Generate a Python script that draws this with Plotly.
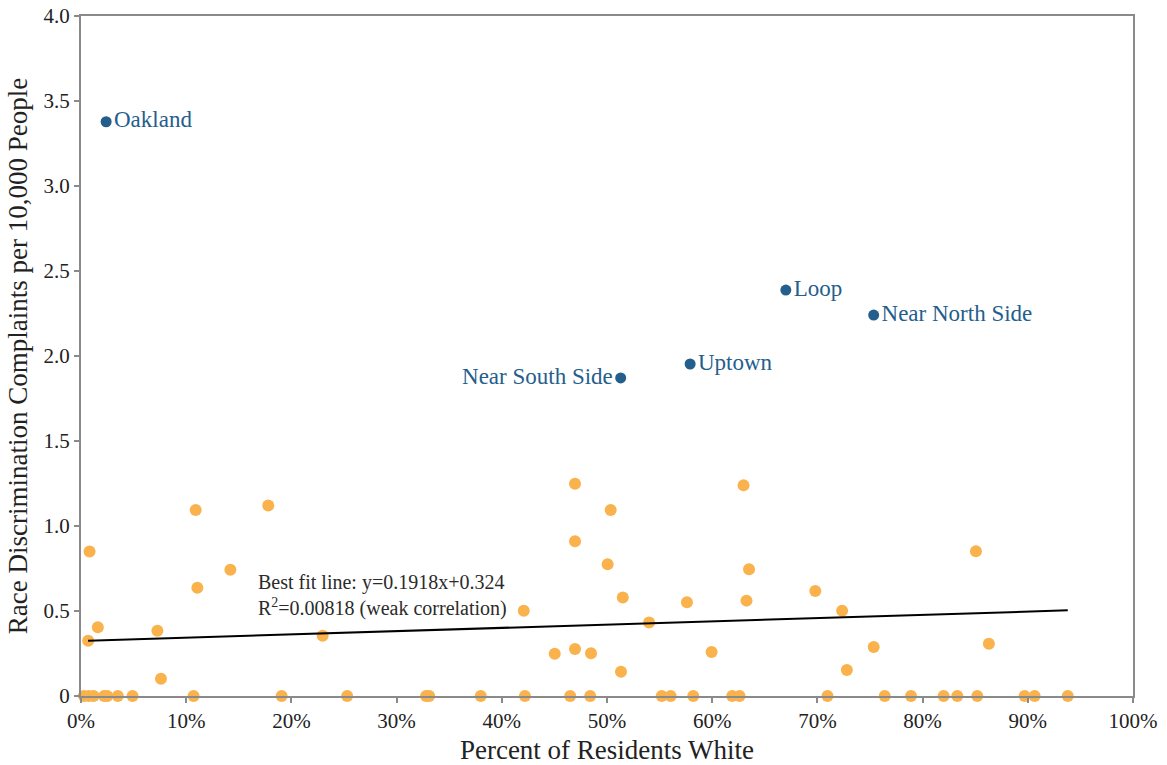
import plotly.graph_objects as go

# Labelled community areas (share of residents white, complaints per 10,000)
named_areas = ["Oakland", "Loop", "Near North Side", "Uptown", "Near South Side"]
named_white = [0.0239, 0.670, 0.7535, 0.579, 0.513]
named_rate = [3.378, 2.388, 2.241, 1.953, 1.871]
named_textpos = ["middle right", "middle right", "middle right", "middle right", "middle left"]

# Other community areas
other_white = [
    0.0081, 0.0068, 0.016, 0.109, 0.1106, 0.142, 0.178, 0.0726, 0.076, 0.2297,
    0.4696, 0.5035, 0.4696, 0.5006, 0.635, 0.6298, 0.515, 0.576, 0.6326, 0.4209,
    0.540, 0.4503, 0.4696, 0.4848, 0.5133, 0.5994,
    0.698, 0.7235, 0.8507, 0.7535, 0.728, 0.863,
    0.0027, 0.0074, 0.012, 0.022, 0.025, 0.035, 0.049, 0.107, 0.1907, 0.253,
    0.328, 0.331, 0.380, 0.422, 0.465, 0.484, 0.552, 0.5605, 0.582, 0.619, 0.626,
    0.7096, 0.764, 0.789, 0.820, 0.833, 0.852, 0.897, 0.9065, 0.938,
]
other_rate = [
    0.85, 0.325, 0.404, 1.094, 0.637, 0.743, 1.12, 0.384, 0.102, 0.355,
    1.249, 1.094, 0.91, 0.775, 0.745, 1.239, 0.58, 0.551, 0.561, 0.502,
    0.433, 0.249, 0.276, 0.251, 0.143, 0.259,
    0.618, 0.502, 0.851, 0.288, 0.153, 0.308,
    0, 0, 0, 0, 0, 0, 0, 0, 0, 0,
    0, 0, 0, 0, 0, 0, 0, 0, 0, 0, 0,
    0, 0, 0, 0, 0, 0, 0, 0, 0,
]

# Least-squares fit reported on the chart
fit_slope = 0.1918
fit_intercept = 0.324
fit_r2 = 0.00818

y_ticks = [0, 0.5, 1.0, 1.5, 2.0, 2.5, 3.0, 3.5, 4.0]
y_ticktext = ["0", "0.5", "1.0", "1.5", "2.0", "2.5", "3.0", "3.5", "4.0"]
x_ticks = [i / 10 for i in range(11)]
x_ticktext = [f"{i * 10}%" for i in range(11)]

FONT = "Liberation Serif"
ORANGE = "#F9B24C"
BLUE = "#245E8C"
AXIS = "#8A8A8A"
TEXT = "#222222"

all_x = other_white + named_white
fit_x = [min(all_x) + 0.004, max(all_x)]
fit_y = [fit_slope * x + fit_intercept for x in fit_x]

fig = go.Figure()
fig.add_trace(go.Scatter(
    x=other_white, y=other_rate, mode="markers",
    marker=dict(color=ORANGE, size=12, line=dict(width=0)),
    cliponaxis=False, showlegend=False,
))
fig.add_trace(go.Scatter(
    x=fit_x, y=fit_y, mode="lines",
    line=dict(color="black", width=2), showlegend=False,
))
fig.add_trace(go.Scatter(
    x=named_white, y=named_rate, mode="markers+text",
    text=named_areas, textposition=named_textpos,
    textfont=dict(family=FONT, size=23, color=BLUE),
    marker=dict(color=BLUE, size=11, line=dict(width=0)),
    cliponaxis=False, showlegend=False,
))

fig.add_annotation(
    x=0.166, y=0.594, xref="x", yref="y",
    text=f"Best fit line: y={fit_slope}x+{fit_intercept}<br>R<sup>2</sup>={fit_r2} (weak correlation)",
    showarrow=False, xanchor="left", yanchor="middle", align="left",
    font=dict(family=FONT, size=20, color="#2b2b2b"),
)

fig.update_layout(
    width=1167, height=765,
    margin=dict(l=81, r=34, t=16, b=69),
    paper_bgcolor="white", plot_bgcolor="white",
    font=dict(family=FONT, size=21, color=TEXT),
    xaxis=dict(
        range=[0, 1], tickvals=x_ticks, ticktext=x_ticktext, automargin=False,
        showgrid=False, zeroline=False, showline=True, linecolor=AXIS, linewidth=2,
        mirror=True, ticks="outside", ticklen=5, tickcolor=AXIS, tickwidth=2,
        tickfont=dict(family=FONT, size=21, color=TEXT),
        title=dict(text="Percent of Residents White", font=dict(family=FONT, size=27), standoff=10),
    ),
    yaxis=dict(
        range=[0, 4], tickvals=y_ticks, ticktext=y_ticktext, automargin=False,
        showgrid=False, zeroline=False, showline=True, linecolor=AXIS, linewidth=2,
        mirror=True, ticks="outside", ticklen=5, tickcolor=AXIS, tickwidth=2,
        tickfont=dict(family=FONT, size=21, color=TEXT),
        title=dict(text="Race Discrimination Complaints per 10,000 People",
                   font=dict(family=FONT, size=27), standoff=8),
    ),
)

fig.write_html("out.html")
